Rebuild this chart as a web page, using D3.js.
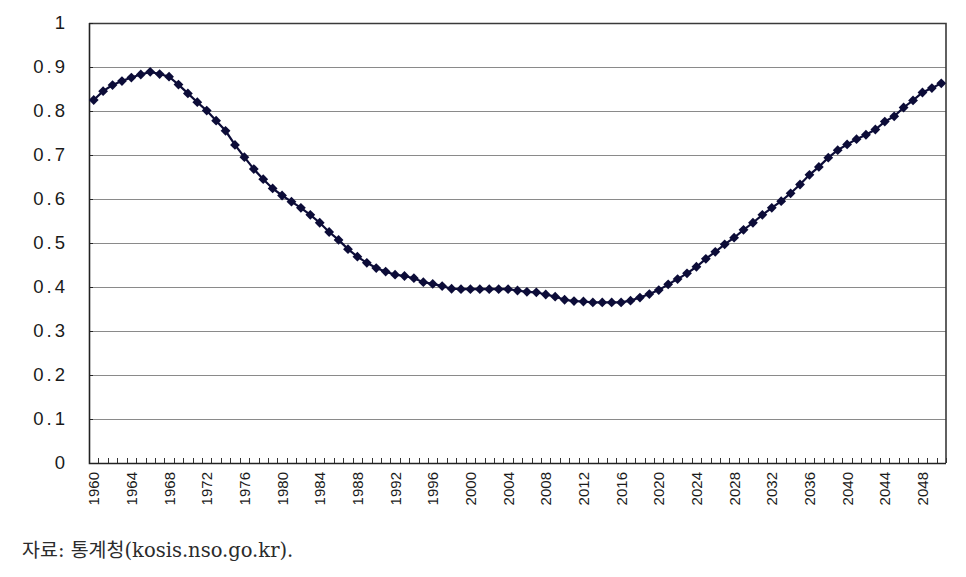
<!DOCTYPE html>
<html>
<head>
<meta charset="utf-8">
<script src="https://cdn.jsdelivr.net/npm/d3@7/dist/d3.min.js"></script>
<style>
  html, body { margin: 0; padding: 0; background: #fff; }
  svg { display: block; }
</style>
</head>
<body>
<svg id="chart" width="966" height="577"></svg>
<script>
const years = d3.range(1960, 2051);
const values = [
  0.825, 0.845, 0.859, 0.868, 0.876, 0.883, 0.889, 0.884, 0.878, 0.860,
  0.840, 0.820, 0.801, 0.778, 0.755, 0.723, 0.695, 0.668, 0.645, 0.624,
  0.608, 0.594, 0.580, 0.564, 0.546, 0.525, 0.507, 0.486, 0.469, 0.455,
  0.443, 0.435, 0.428, 0.425, 0.420, 0.411, 0.407, 0.402, 0.396, 0.395,
  0.395, 0.395, 0.395, 0.395, 0.395, 0.392, 0.389, 0.388, 0.383, 0.378,
  0.371, 0.368, 0.367, 0.365, 0.365, 0.365, 0.365, 0.369, 0.376, 0.384,
  0.393, 0.406, 0.418, 0.431, 0.446, 0.464, 0.480, 0.497, 0.512, 0.530,
  0.546, 0.564, 0.580, 0.595, 0.613, 0.633, 0.655, 0.673, 0.694, 0.711,
  0.724, 0.736, 0.746, 0.758, 0.776, 0.788, 0.808, 0.824, 0.842, 0.852,
  0.863
];
const yTicks = [0, 0.1, 0.2, 0.3, 0.4, 0.5, 0.6, 0.7, 0.8, 0.9, 1];
const xLabelYears = d3.range(1960, 2050, 4);
const sourceText = "자료: 통계청(kosis.nso.go.kr).";

const svg = d3.select("#chart");
const m = { left: 89, right: 946, top: 23, bottom: 463 };

const x = d3.scaleBand().domain(years).range([m.left, m.right]).paddingInner(0).paddingOuter(0);
const y = d3.scaleLinear().domain([0, 1]).range([m.bottom, m.top]);
const cx = d => x(d) + x.bandwidth() / 2;

// gridlines
svg.append("g")
  .selectAll("line")
  .data(yTicks.filter(t => t > 0 && t < 1))
  .join("line")
  .attr("x1", m.left).attr("x2", m.right)
  .attr("y1", d => Math.round(y(d)) + 0.5).attr("y2", d => Math.round(y(d)) + 0.5)
  .attr("stroke", "#8a8a8a").attr("stroke-width", 1.2);

// plot border (top, right)
svg.append("path")
  .attr("d", `M${m.left},${m.top + 0.5}H${m.right}V${m.bottom}`)
  .attr("fill", "none").attr("stroke", "#3a3a3a").attr("stroke-width", 1.6);

// y axis
const yAxis = d3.axisLeft(y).tickValues(yTicks).tickSize(0).tickPadding(21)
  .tickFormat(d => d === 0 ? "0" : d === 1 ? "1" : d3.format(".1f")(d));
const gy = svg.append("g").attr("transform", `translate(${m.left},0)`).call(yAxis);
gy.select(".domain").remove();
gy.selectAll("text")
  .attr("font-family", "Liberation Sans, Arial, sans-serif")
  .attr("font-size", 18.5).attr("letter-spacing", 3).attr("fill", "#1a1a1a");

// y inner ticks
svg.append("g").selectAll("line").data(yTicks).join("line")
  .attr("x1", m.left).attr("x2", m.left + 4)
  .attr("y1", d => Math.round(y(d)) + 0.5).attr("y2", d => Math.round(y(d)) + 0.5)
  .attr("stroke", "#222").attr("stroke-width", 1);

// x ticks at category boundaries (inward)
const boundaries = years.map(d => x(d)).concat([m.right]);
svg.append("g").selectAll("line").data(boundaries).join("line")
  .attr("x1", d => Math.round(d) + 0.5).attr("x2", d => Math.round(d) + 0.5)
  .attr("y1", m.bottom).attr("y2", m.bottom - 5)
  .attr("stroke", "#333").attr("stroke-width", 1);

// axis lines
svg.append("path")
  .attr("d", `M${m.left + 0.5},${m.top}V${m.bottom + 0.5}H${m.right}`)
  .attr("fill", "none").attr("stroke", "#222").attr("stroke-width", 1.6);

// x labels
svg.append("g").selectAll("text").data(xLabelYears).join("text")
  .attr("transform", d => `translate(${cx(d) + 5.5},${m.bottom + 9}) rotate(-90)`)
  .attr("text-anchor", "end")
  .attr("font-family", "Liberation Sans, Arial, sans-serif")
  .attr("font-size", 15).attr("fill", "#1a1a1a")
  .text(d => d);

// line
const line = d3.line().x((d, i) => cx(years[i])).y(d => y(d));
svg.append("path").datum(values)
  .attr("d", line).attr("fill", "none")
  .attr("stroke", "#0c0c38").attr("stroke-width", 2.2);

// diamond markers
const sym = d3.symbol().type(d3.symbolSquare).size(48);
svg.append("g").selectAll("path").data(values).join("path")
  .attr("d", sym)
  .attr("transform", (d, i) => `translate(${cx(years[i])},${y(d)}) rotate(45)`)
  .attr("fill", "#0c0c38");

// source
svg.append("text")
  .attr("x", 22).attr("y", 557)
  .attr("font-family", "'DejaVu Serif', 'Noto Sans CJK KR', serif")
  .attr("font-size", 19.5).attr("fill", "#2b2b2b")
  .text(sourceText);
</script>
</body>
</html>
